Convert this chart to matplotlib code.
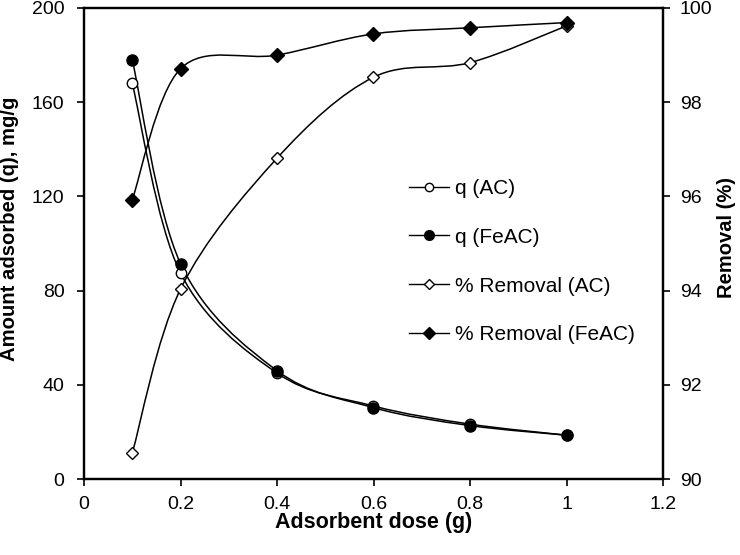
import numpy as np
import matplotlib
matplotlib.use('Agg')
import matplotlib.pyplot as plt
from matplotlib.path import Path
from matplotlib.patches import PathPatch
from matplotlib.lines import Line2D

plt.rcParams['font.family'] = ['Liberation Sans', 'DejaVu Sans']

# dados
dose = [0.1, 0.2, 0.4, 0.6, 0.8, 1.0]
q_ac = [168, 87.5, 45, 31, 23.3, 18.6]
q_feac = [178, 91.5, 46, 30.3, 22.7, 18.6]
rem_ac = [90.55, 94.03, 96.81, 98.53, 98.84, 99.62]
rem_feac = [95.93, 98.71, 99.0, 99.45, 99.58, 99.69]


# curva suavizada tipo Excel (Catmull-Rom -> Bezier)
def curva_suave(x, y):
    pts = np.column_stack([x, y]).astype(float)
    n = len(pts)
    verts = [pts[0]]
    codes = [Path.MOVETO]
    for i in range(n - 1):
        p0 = pts[max(i - 1, 0)]
        p1 = pts[i]
        p2 = pts[i + 1]
        p3 = pts[min(i + 2, n - 1)]
        c1 = p1 + (p2 - p0) / 6
        c2 = p2 - (p3 - p1) / 6
        verts += [c1, c2, p2]
        codes += [Path.CURVE4] * 3
    return Path(verts, codes)


fig = plt.figure(figsize=(7.4, 5.55), dpi=100)
ax = fig.add_axes([84/740, 1-479/555, 579/740, 471/555])
ax2 = ax.twinx()

lw = 1.1
ax.add_patch(PathPatch(curva_suave(dose, q_ac), fill=False, lw=lw, ec='black'))
ax.add_patch(PathPatch(curva_suave(dose, q_feac), fill=False, lw=lw, ec='black'))
ax2.add_patch(PathPatch(curva_suave(dose, rem_ac), fill=False, lw=lw, ec='black'))
ax2.add_patch(PathPatch(curva_suave(dose, rem_feac), fill=False, lw=lw, ec='black'))

ax.plot(dose, q_ac, ls='none', marker='o', ms=7.5, mfc='white', mec='black', mew=1)
ax.plot(dose, q_feac, ls='none', marker='o', ms=8, mfc='black', mec='black')
ax2.plot(dose, rem_ac, ls='none', marker='D', ms=6.5, mfc='white', mec='black', mew=1)
ax2.plot(dose, rem_feac, ls='none', marker='D', ms=7, mfc='black', mec='black')

ax.set_xlim(0, 1.2)
ax.set_ylim(0, 200)
ax2.set_ylim(90, 100)
ax.set_xticks(np.arange(0, 1.21, 0.2))
ax.set_xticklabels(['0', '0.2', '0.4', '0.6', '0.8', '1', '1.2'])
ax.set_yticks(np.arange(0, 201, 40))
ax2.set_yticks(np.arange(90, 101, 2))

for a in (ax, ax2):
    for s in a.spines.values():
        s.set_linewidth(1.6)
ax.tick_params(axis='both', direction='out', length=5, width=1.2, labelsize=14)
ax.tick_params(axis='x', pad=7)
ax.tick_params(axis='y', pad=9)
ax2.tick_params(axis='y', direction='out', length=5, width=1.2, labelsize=14, pad=7)

ax.set_xlabel('Adsorbent dose (g)', fontsize=15.5, fontweight='bold')
ax.set_ylabel('Amount adsorbed (q), mg/g', fontsize=14.6, fontweight='bold')
ax2.set_ylabel('Removal (%)', fontsize=14.5, fontweight='bold')
ax.xaxis.set_label_coords(0.5, -0.07)
ax.yaxis.set_label_coords(-0.112, 0.532)
ax2.yaxis.set_label_coords(1.093, 0.513)

# legenda
handles = [
    Line2D([], [], color='black', lw=1, marker='o', ms=6, mfc='white', mec='black'),
    Line2D([], [], color='black', lw=1, marker='o', ms=7, mfc='black', mec='black'),
    Line2D([], [], color='black', lw=1, marker='D', ms=5.5, mfc='white', mec='black'),
    Line2D([], [], color='black', lw=1, marker='D', ms=6, mfc='black', mec='black'),
]
labels = ['q (AC)', 'q (FeAC)', '% Removal (AC)', '% Removal (FeAC)']
ax2.legend(handles, labels, loc='upper left', frameon=False, fontsize=15,
           bbox_to_anchor=(409/740, 1-179/555), bbox_transform=fig.transFigure,
           borderpad=0, borderaxespad=0, handlelength=1.92, handletextpad=0.29,
           labelspacing=1.43)

fig.savefig('out.png', dpi=100)
